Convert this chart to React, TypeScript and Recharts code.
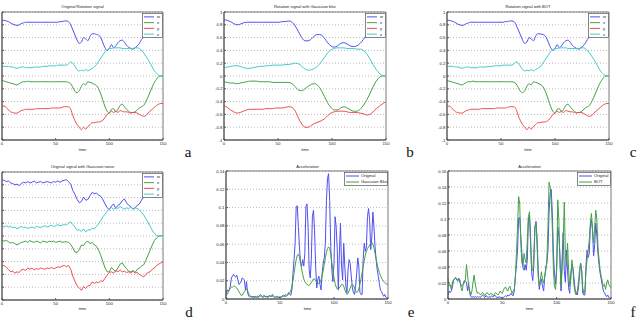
import React from 'react';
import { LineChart, Line, XAxis, YAxis, CartesianGrid, Legend } from 'recharts';

// quaternion of the original rotation, one sample every 2 frames (t = 0..150)
const W_ORIG = [
  0.87, 0.87, 0.86, 0.85, 0.83, 0.81, 0.8, 0.79, 0.8, 0.82,
  0.83, 0.84, 0.84, 0.84, 0.84, 0.84, 0.84, 0.84, 0.84, 0.84,
  0.84, 0.84, 0.84, 0.84, 0.84, 0.84, 0.84, 0.85, 0.85, 0.86,
  0.86, 0.85, 0.8, 0.72, 0.64, 0.56, 0.51, 0.53, 0.6, 0.58,
  0.55, 0.62, 0.66, 0.66, 0.65, 0.64, 0.6, 0.52, 0.44, 0.4,
  0.43, 0.49, 0.44, 0.47, 0.52, 0.55, 0.56, 0.53, 0.48, 0.45,
  0.43, 0.42, 0.44, 0.47, 0.51, 0.57, 0.62, 0.67, 0.72, 0.76,
  0.79, 0.82, 0.84, 0.86, 0.87, 0.88,
];
const X_ORIG = [
  -0.07, -0.08, -0.09, -0.1, -0.11, -0.12, -0.13, -0.14, -0.12, -0.1,
  -0.09, -0.09, -0.08, -0.09, -0.09, -0.09, -0.09, -0.09, -0.09, -0.09,
  -0.09, -0.09, -0.09, -0.09, -0.09, -0.09, -0.09, -0.09, -0.09, -0.09,
  -0.09, -0.1, -0.12, -0.18, -0.24, -0.26, -0.23, -0.16, -0.12, -0.14,
  -0.09, -0.1, -0.11, -0.13, -0.15, -0.2, -0.28, -0.38, -0.48, -0.55,
  -0.58, -0.52, -0.51, -0.56, -0.52, -0.46, -0.44, -0.48, -0.52, -0.55,
  -0.57, -0.57, -0.56, -0.53, -0.5, -0.48, -0.46, -0.4, -0.33, -0.25,
  -0.17, -0.1, -0.05, -0.01, 0, 0,
];
const Y_ORIG = [
  -0.47, -0.47, -0.49, -0.53, -0.56, -0.57, -0.58, -0.58, -0.56, -0.54,
  -0.53, -0.52, -0.52, -0.52, -0.52, -0.52, -0.51, -0.51, -0.51, -0.51,
  -0.51, -0.51, -0.51, -0.5, -0.5, -0.5, -0.5, -0.5, -0.49, -0.48,
  -0.48, -0.48, -0.52, -0.62, -0.7, -0.76, -0.8, -0.84, -0.8, -0.83,
  -0.79, -0.76, -0.73, -0.73, -0.72, -0.72, -0.71, -0.69, -0.65, -0.6,
  -0.58, -0.55, -0.57, -0.55, -0.57, -0.54, -0.55, -0.56, -0.56, -0.57,
  -0.58, -0.57, -0.57, -0.58, -0.6, -0.62, -0.63, -0.62, -0.58, -0.55,
  -0.52, -0.49, -0.46, -0.44, -0.43, -0.43,
];
const Z_ORIG = [
  0.15, 0.15, 0.15, 0.15, 0.14, 0.14, 0.13, 0.12, 0.13, 0.14,
  0.14, 0.13, 0.13, 0.13, 0.13, 0.14, 0.14, 0.14, 0.14, 0.15,
  0.15, 0.15, 0.16, 0.16, 0.16, 0.16, 0.17, 0.17, 0.17, 0.17,
  0.17, 0.19, 0.22, 0.2, 0.15, 0.1, 0.08, 0.09, 0.08, 0.1,
  0.08, 0.1, 0.12, 0.14, 0.18, 0.23, 0.28, 0.33, 0.38, 0.41,
  0.43, 0.43, 0.44, 0.44, 0.44, 0.44, 0.43, 0.43, 0.43, 0.43,
  0.43, 0.43, 0.44, 0.44, 0.43, 0.4, 0.36, 0.31, 0.26, 0.2,
  0.14, 0.08, 0.04, 0.01, 0, 0,
];

// gaussian blurred rotation, one sample every 3 frames
const W_BLUR = [
  0.88, 0.87, 0.85, 0.82, 0.8, 0.81, 0.83, 0.84, 0.84, 0.84,
  0.84, 0.84, 0.84, 0.84, 0.84, 0.84, 0.84, 0.84, 0.85, 0.85,
  0.86, 0.84, 0.78, 0.69, 0.6, 0.55, 0.55, 0.58, 0.63, 0.65,
  0.64, 0.59, 0.52, 0.47, 0.45, 0.47, 0.51, 0.52, 0.5, 0.47,
  0.46, 0.47, 0.51, 0.57, 0.64, 0.7, 0.76, 0.81, 0.85, 0.88,
  0.89,
];
const X_BLUR = [
  -0.09, -0.1, -0.11, -0.11, -0.12, -0.11, -0.1, -0.09, -0.08, -0.08,
  -0.08, -0.09, -0.09, -0.09, -0.09, -0.1, -0.1, -0.1, -0.1, -0.1,
  -0.1, -0.12, -0.17, -0.22, -0.23, -0.2, -0.16, -0.13, -0.12, -0.15,
  -0.22, -0.32, -0.42, -0.49, -0.53, -0.53, -0.5, -0.48, -0.5, -0.53,
  -0.55, -0.55, -0.52, -0.46, -0.38, -0.28, -0.17, -0.08, -0.02, 0,
  0,
];
const Y_BLUR = [
  -0.46, -0.49, -0.53, -0.56, -0.58, -0.57, -0.55, -0.53, -0.52, -0.52,
  -0.52, -0.52, -0.52, -0.51, -0.51, -0.51, -0.5, -0.5, -0.5, -0.49,
  -0.48, -0.49, -0.55, -0.66, -0.75, -0.8, -0.8, -0.77, -0.74, -0.72,
  -0.7, -0.67, -0.62, -0.58, -0.56, -0.55, -0.55, -0.55, -0.56, -0.57,
  -0.57, -0.57, -0.58, -0.59, -0.61, -0.6, -0.56, -0.51, -0.47, -0.43,
  -0.4,
];
const Z_BLUR = [
  0.13, 0.14, 0.15, 0.16, 0.16, 0.15, 0.13, 0.12, 0.12, 0.13,
  0.14, 0.15, 0.15, 0.16, 0.16, 0.17, 0.17, 0.17, 0.17, 0.18,
  0.18, 0.19, 0.2, 0.19, 0.15, 0.11, 0.09, 0.1, 0.12, 0.16,
  0.22, 0.29, 0.36, 0.41, 0.43, 0.44, 0.44, 0.44, 0.43, 0.43,
  0.43, 0.42, 0.42, 0.4, 0.35, 0.27, 0.18, 0.1, 0.04, 0.01,
  0,
];

// rotation with gaussian noise, every 2 frames
const W_NOISE = [
  0.88, 0.87, 0.85, 0.86, 0.83, 0.82, 0.8, 0.81, 0.79, 0.82,
  0.84, 0.83, 0.85, 0.83, 0.84, 0.86, 0.83, 0.84, 0.85, 0.83,
  0.84, 0.85, 0.84, 0.83, 0.85, 0.84, 0.86, 0.84, 0.86, 0.87,
  0.88, 0.85, 0.81, 0.71, 0.65, 0.57, 0.52, 0.54, 0.61, 0.56,
  0.57, 0.63, 0.68, 0.66, 0.67, 0.64, 0.62, 0.57, 0.5, 0.44,
  0.41, 0.47, 0.5, 0.43, 0.48, 0.5, 0.55, 0.58, 0.52, 0.48,
  0.46, 0.42, 0.44, 0.48, 0.5, 0.56, 0.61, 0.66, 0.72, 0.76,
  0.79, 0.83, 0.85, 0.86, 0.88, 0.89,
];
const X_NOISE = [
  -0.07, -0.08, -0.07, -0.09, -0.11, -0.1, -0.12, -0.14, -0.12, -0.1,
  -0.09, -0.08, -0.1, -0.07, -0.09, -0.1, -0.08, -0.09, -0.11, -0.08,
  -0.09, -0.1, -0.08, -0.09, -0.08, -0.1, -0.09, -0.08, -0.1, -0.09,
  -0.09, -0.1, -0.13, -0.19, -0.25, -0.26, -0.21, -0.14, -0.15, -0.1,
  -0.08, -0.12, -0.1, -0.14, -0.16, -0.22, -0.3, -0.4, -0.5, -0.56,
  -0.56, -0.49, -0.53, -0.55, -0.5, -0.44, -0.42, -0.47, -0.51, -0.55,
  -0.56, -0.54, -0.57, -0.52, -0.5, -0.47, -0.45, -0.38, -0.3, -0.22,
  -0.14, -0.07, -0.03, 0, 0, 0.01,
];
const Y_NOISE = [
  -0.47, -0.46, -0.49, -0.52, -0.56, -0.55, -0.58, -0.56, -0.57, -0.53,
  -0.52, -0.54, -0.5, -0.52, -0.5, -0.53, -0.51, -0.52, -0.5, -0.51,
  -0.52, -0.5, -0.51, -0.49, -0.51, -0.5, -0.48, -0.49, -0.47, -0.46,
  -0.48, -0.46, -0.52, -0.63, -0.71, -0.78, -0.81, -0.85, -0.79, -0.82,
  -0.78, -0.77, -0.72, -0.74, -0.72, -0.73, -0.7, -0.71, -0.66, -0.61,
  -0.57, -0.56, -0.58, -0.54, -0.56, -0.53, -0.56, -0.55, -0.57, -0.56,
  -0.58, -0.55, -0.58, -0.57, -0.6, -0.62, -0.64, -0.6, -0.57, -0.56,
  -0.52, -0.5, -0.46, -0.44, -0.42, -0.4,
];
const Z_NOISE = [
  0.15, 0.14, 0.16, 0.14, 0.15, 0.13, 0.14, 0.11, 0.13, 0.15,
  0.13, 0.14, 0.12, 0.13, 0.14, 0.12, 0.15, 0.14, 0.13, 0.15,
  0.16, 0.14, 0.15, 0.17, 0.15, 0.16, 0.18, 0.16, 0.17, 0.18,
  0.17, 0.2, 0.22, 0.18, 0.14, 0.09, 0.1, 0.07, 0.11, 0.06,
  0.1, 0.09, 0.12, 0.11, 0.15, 0.19, 0.24, 0.3, 0.34, 0.39,
  0.42, 0.45, 0.41, 0.45, 0.43, 0.46, 0.44, 0.42, 0.44, 0.43,
  0.45, 0.42, 0.44, 0.43, 0.41, 0.37, 0.33, 0.27, 0.22, 0.15,
  0.09, 0.04, 0.01, 0, 0.01, 0,
];

// acceleration magnitude, one sample per frame (t = 0..150)
const ACC_ORIG = [
  0.005, 0.01, 0.008, 0.01, 0.014, 0.023, 0.025, 0.027, 0.025, 0.024,
  0.026, 0.021, 0.016, 0.017, 0.019, 0.023, 0.022, 0.021, 0.01, 0.019,
  0.007, 0.003, 0.002, 0.003, 0.002, 0.003, 0.002, 0.003, 0.002, 0.003,
  0.002, 0.004, 0.005, 0.003, 0.002, 0.004, 0.003, 0.002, 0.003, 0.002,
  0.004, 0.003, 0.003, 0.005, 0.003, 0.002, 0.002, 0.003, 0.002, 0.002,
  0.002, 0.002, 0.003, 0.004, 0.003, 0.005, 0.004, 0.005, 0.007, 0.005,
  0.004, 0.01, 0.028, 0.043, 0.061, 0.101, 0.102, 0.079, 0.057, 0.039,
  0.036, 0.043, 0.036, 0.05, 0.101, 0.104, 0.079, 0.032, 0.023, 0.043,
  0.09, 0.097, 0.075, 0.036, 0.012, 0.021, 0.025, 0.016, 0.01, 0.028,
  0.039, 0.045, 0.061, 0.108, 0.132, 0.137, 0.108, 0.057, 0.032, 0.019,
  0.039, 0.09, 0.079, 0.054, 0.01, 0.05, 0.083, 0.036, 0.021, 0.061,
  0.036, 0.014, 0.007, 0.032, 0.043, 0.039, 0.025, 0.012, 0.007, 0.005,
  0.014, 0.028, 0.045, 0.036, 0.007, 0.005, 0.005, 0.043, 0.061, 0.052,
  0.057, 0.09, 0.099, 0.086, 0.054, 0.068, 0.095, 0.079, 0.057, 0.043,
  0.032, 0.025, 0.017, 0.01, 0.008, 0.005, 0.003, 0.005, 0.002, 0.001,
  0,
];
const ACC_BLUR = [
  0.003, 0.005, 0.007, 0.01, 0.012, 0.013, 0.013, 0.014, 0.014, 0.013,
  0.012, 0.01, 0.008, 0.006, 0.004, 0.004, 0.006, 0.008, 0.01, 0.011,
  0.009, 0.006, 0.004, 0.003, 0.002, 0.002, 0.002, 0.002, 0.002, 0.002,
  0.002, 0.003, 0.003, 0.003, 0.002, 0.002, 0.003, 0.003, 0.002, 0.002,
  0.003, 0.003, 0.003, 0.003, 0.003, 0.002, 0.002, 0.002, 0.002, 0.002,
  0.002, 0.002, 0.003, 0.003, 0.003, 0.003, 0.003, 0.004, 0.005, 0.007,
  0.009, 0.014, 0.02, 0.028, 0.036, 0.043, 0.048, 0.049, 0.046, 0.04,
  0.033, 0.027, 0.022, 0.019, 0.017, 0.016, 0.015, 0.015, 0.016, 0.018,
  0.02, 0.022, 0.022, 0.02, 0.018, 0.017, 0.017, 0.018, 0.021, 0.025,
  0.031, 0.038, 0.045, 0.051, 0.055, 0.057, 0.055, 0.049, 0.04, 0.031,
  0.023, 0.017, 0.013, 0.011, 0.011, 0.012, 0.014, 0.016, 0.016, 0.014,
  0.01, 0.007, 0.005, 0.006, 0.009, 0.012, 0.015, 0.016, 0.015, 0.012,
  0.009, 0.007, 0.008, 0.011, 0.016, 0.022, 0.029, 0.036, 0.042, 0.048,
  0.052, 0.055, 0.057, 0.059, 0.061, 0.062, 0.06, 0.056, 0.05, 0.044,
  0.038, 0.033, 0.029, 0.026, 0.023, 0.021, 0.019, 0.018, 0.017, 0.016,
  0.016,
];
const ACC_BOT = [
  0.026, 0.016, 0.018, 0.012, 0.02, 0.024, 0.025, 0.026, 0.024, 0.022,
  0.025, 0.024, 0.014, 0.01, 0.018, 0.02, 0.024, 0.043, 0.03, 0.016,
  0.01, 0.005, 0.01, 0.02, 0.03, 0.02, 0.012, 0.007, 0.008, 0.007,
  0.005, 0.007, 0.008, 0.006, 0.004, 0.007, 0.008, 0.006, 0.005, 0.007,
  0.007, 0.005, 0.004, 0.007, 0.008, 0.006, 0.005, 0.007, 0.01, 0.008,
  0.007, 0.011, 0.014, 0.015, 0.012, 0.01, 0.014, 0.016, 0.011, 0.007,
  0.01, 0.012, 0.028, 0.057, 0.09, 0.128, 0.119, 0.07, 0.045, 0.041,
  0.057, 0.049, 0.045, 0.074, 0.103, 0.109, 0.066, 0.036, 0.036, 0.057,
  0.09, 0.095, 0.066, 0.028, 0.016, 0.024, 0.034, 0.024, 0.02, 0.028,
  0.036, 0.049, 0.09, 0.146, 0.14, 0.124, 0.09, 0.036, 0.016, 0.012,
  0.036, 0.124, 0.099, 0.049, 0.016, 0.036, 0.07, 0.121, 0.057, 0.041,
  0.07, 0.036, 0.016, 0.024, 0.049, 0.036, 0.016, 0.008, 0.005, 0.01,
  0.02, 0.036, 0.045, 0.036, 0.014, 0.007, 0.01, 0.036, 0.049, 0.061,
  0.074, 0.095, 0.107, 0.086, 0.07, 0.09, 0.111, 0.099, 0.066, 0.049,
  0.036, 0.028, 0.022, 0.016, 0.018, 0.012, 0.02, 0.024, 0.018, 0.016,
  0.014,
];

const TIME_TICKS = [0, 50, 100, 150];
const ROT_TICKS = [-1, -0.8, -0.6, -0.4, -0.2, 0, 0.2, 0.4, 0.6, 0.8, 1];
const ACC_TICKS_E = [0, 0.02, 0.04, 0.06, 0.08, 0.1, 0.12, 0.14];
const ACC_TICKS_F = [0, 0.02, 0.04, 0.06, 0.08, 0.1, 0.12, 0.14, 0.16];

const BLUE = '#4f4ff2';
const GREEN = '#44a044';
const RED = '#f04c4c';
const CYAN = '#44caca';
const SANS = '"Liberation Sans", Arial, sans-serif';

const ROT_SERIES = [
  { key: 'w', name: 'w', color: BLUE },
  { key: 'x', name: 'x', color: GREEN },
  { key: 'y', name: 'y', color: RED },
  { key: 'z', name: 'z', color: CYAN },
];

function buildRows(step: number, cols: Record<string, number[]>) {
  const keys = Object.keys(cols);
  return cols[keys[0]].map((_, i) => {
    const row: any = { t: i * step };
    keys.forEach((k) => (row[k] = cols[k][i]));
    return row;
  });
}

const origRows = buildRows(2, { w: W_ORIG, x: X_ORIG, y: Y_ORIG, z: Z_ORIG });
const blurRows = buildRows(3, { w: W_BLUR, x: X_BLUR, y: Y_BLUR, z: Z_BLUR });
const noiseRows = buildRows(2, { w: W_NOISE, x: X_NOISE, y: Y_NOISE, z: Z_NOISE });
const accRows = buildRows(1, { orig: ACC_ORIG, blur: ACC_BLUR, bot: ACC_BOT });

const YW = 24;
const XH = 12;
const RM = 8; // room on the right for the last time label

function LegendBox({ series, w, h, sampleEnd, textX }: any) {
  const rowH = (h - 2) / series.length;
  return (
    <svg width={w} height={h} style={{ display: 'block' }}>
      <rect x={0.5} y={0.5} width={w - 1} height={h - 1} fill="#fff" stroke="#555" strokeWidth={0.7} />
      {series.map((s: any, i: number) => {
        const cy = 1 + rowH * (i + 0.5);
        return (
          <g key={s.key}>
            <line x1={2} x2={sampleEnd} y1={cy} y2={cy} stroke={s.color} strokeWidth={1} />
            <text x={textX} y={cy} dy="0.35em" fontSize={4.2} fontFamily={SANS} fill="#222">
              {s.name}
            </text>
          </g>
        );
      })}
    </svg>
  );
}

function Panel({ box, data, series, ticks, curve, legend, hideYLabels }: any) {
  const [px, py, pw, ph] = box;
  // the y labels of the left column fall outside the page in the figure
  const yw = hideYLabels ? 2 : YW;
  const left = px - yw;
  const top = py - 1;
  const tickStyle = { fontSize: 4.3, fill: '#222', fontFamily: SANS };
  return (
    <div style={{ position: 'absolute', left, top }}>
      <LineChart
        width={yw + pw + RM}
        height={ph + XH + 1}
        data={data}
        margin={{ top: 1, right: RM, left: 0, bottom: 0 }}
      >
        <CartesianGrid vertical={false} stroke="#aaa" strokeDasharray="1 2" strokeWidth={0.8} />
        <CartesianGrid
          stroke="#555"
          strokeWidth={0.8}
          horizontalCoordinatesGenerator={({ offset }: any) => [offset.top, offset.top + offset.height]}
          verticalCoordinatesGenerator={({ offset }: any) => [offset.left, offset.left + offset.width]}
        />
        <XAxis
          dataKey="t"
          type="number"
          domain={[0, 150]}
          ticks={TIME_TICKS}
          interval={0}
          height={XH}
          tickSize={-2}
          tickMargin={4}
          tick={tickStyle}
          axisLine={{ stroke: '#555' }}
          tickLine={{ stroke: '#555' }}
        />
        <YAxis
          type="number"
          domain={[ticks[0], ticks[ticks.length - 1]]}
          ticks={ticks}
          interval={0}
          width={yw}
          tickSize={-2}
          tickMargin={3.5}
          tick={hideYLabels ? () => <g /> : tickStyle}
          axisLine={{ stroke: '#555' }}
          tickLine={{ stroke: '#555' }}
          allowDataOverflow
        />
        {series.map((s: any) => (
          <Line
            key={s.key}
            dataKey={s.key}
            name={s.name}
            type={curve}
            stroke={s.color}
            strokeWidth={1}
            dot={false}
            isAnimationActive={false}
          />
        ))}
        <Legend
          layout="vertical"
          align="center"
          verticalAlign="middle"
          wrapperStyle={{ left: legend.x - left, top: legend.y - top, width: legend.w, height: legend.h }}
          content={() => (
            <LegendBox series={series} w={legend.w} h={legend.h} sampleEnd={legend.sampleEnd} textX={legend.textX} />
          )}
        />
      </LineChart>
    </div>
  );
}

const TEXTS = [
  { t: 'Original Rotation signal', x: 82.5, y: 8.3, s: 4.1 },
  { t: 'Rotation signal with Gaussian blur', x: 305, y: 8.3, s: 4.1 },
  { t: 'Rotation signal with BOT', x: 528, y: 8.3, s: 4.1 },
  { t: 'Original signal with Gaussian noise', x: 82.5, y: 168.3, s: 4.1 },
  { t: 'Acceleration', x: 307.5, y: 167.5, s: 4.1 },
  { t: 'Acceleration', x: 529.5, y: 167.5, s: 4.1 },
  { t: 'time', x: 82.5, y: 150.5, s: 4 },
  { t: 'time', x: 305, y: 150.5, s: 4 },
  { t: 'time', x: 528, y: 150.5, s: 4 },
  { t: 'time', x: 82.5, y: 309.5, s: 4 },
  { t: 'time', x: 307.5, y: 309.5, s: 4 },
  { t: 'time', x: 529.5, y: 309.5, s: 4 },
];
const LETTERS = [
  { t: 'a', x: 188, y: 157 },
  { t: 'b', x: 410, y: 157 },
  { t: 'c', x: 633, y: 157 },
  { t: 'd', x: 189, y: 317 },
  { t: 'e', x: 411, y: 317 },
  { t: 'f', x: 633, y: 317 },
];

export default function App() {
  const rotLegend = (x: number, y: number) => ({ x, y, w: 21, h: 25, sampleEnd: 12, textX: 15 });
  return (
    <div style={{ position: 'absolute', left: 0, top: 0, width: 639, height: 320, overflow: 'hidden', background: '#fff' }}>
      <svg width={639} height={320} style={{ position: 'absolute', left: 0, top: 0 }}>
        {TEXTS.map((d, i) => (
          <text key={i} x={d.x} y={d.y} fontSize={d.s} fontFamily={SANS} fill="#222" textAnchor="middle">
            {d.t}
          </text>
        ))}
        {LETTERS.map((d) => (
          <text key={d.t} x={d.x} y={d.y} fontSize={15} fontFamily='"Liberation Serif", "Times New Roman", serif' fill="#111" textAnchor="middle">
            {d.t}
          </text>
        ))}
      </svg>
      <Panel box={[2, 12, 161, 128]} data={origRows} series={ROT_SERIES} ticks={ROT_TICKS} curve="monotone" legend={rotLegend(142, 13)} hideYLabels />
      <Panel box={[224, 12, 162, 128]} data={blurRows} series={ROT_SERIES} ticks={ROT_TICKS} curve="monotone" legend={rotLegend(365, 13)} />
      <Panel box={[447, 12, 162, 128]} data={origRows} series={ROT_SERIES} ticks={ROT_TICKS} curve="monotone" legend={rotLegend(588, 13)} />
      <Panel box={[2, 172, 161, 128]} data={noiseRows} series={ROT_SERIES} ticks={ROT_TICKS} curve="linear" legend={rotLegend(142, 173)} hideYLabels />
      <Panel
        box={[226, 171, 162, 128]}
        data={accRows}
        series={[
          { key: 'orig', name: 'Original', color: BLUE },
          { key: 'blur', name: 'Gaussian Blur', color: GREEN },
        ]}
        ticks={ACC_TICKS_E}
        curve="linear"
        legend={{ x: 344, y: 172, w: 44, h: 14, sampleEnd: 15, textX: 17 }}
      />
      <Panel
        box={[448, 171, 163, 128]}
        data={accRows}
        series={[
          { key: 'orig', name: 'Original', color: BLUE },
          { key: 'bot', name: 'BOT', color: GREEN },
        ]}
        ticks={ACC_TICKS_F}
        curve="linear"
        legend={{ x: 577, y: 172, w: 34, h: 14, sampleEnd: 15, textX: 17 }}
      />
    </div>
  );
}
